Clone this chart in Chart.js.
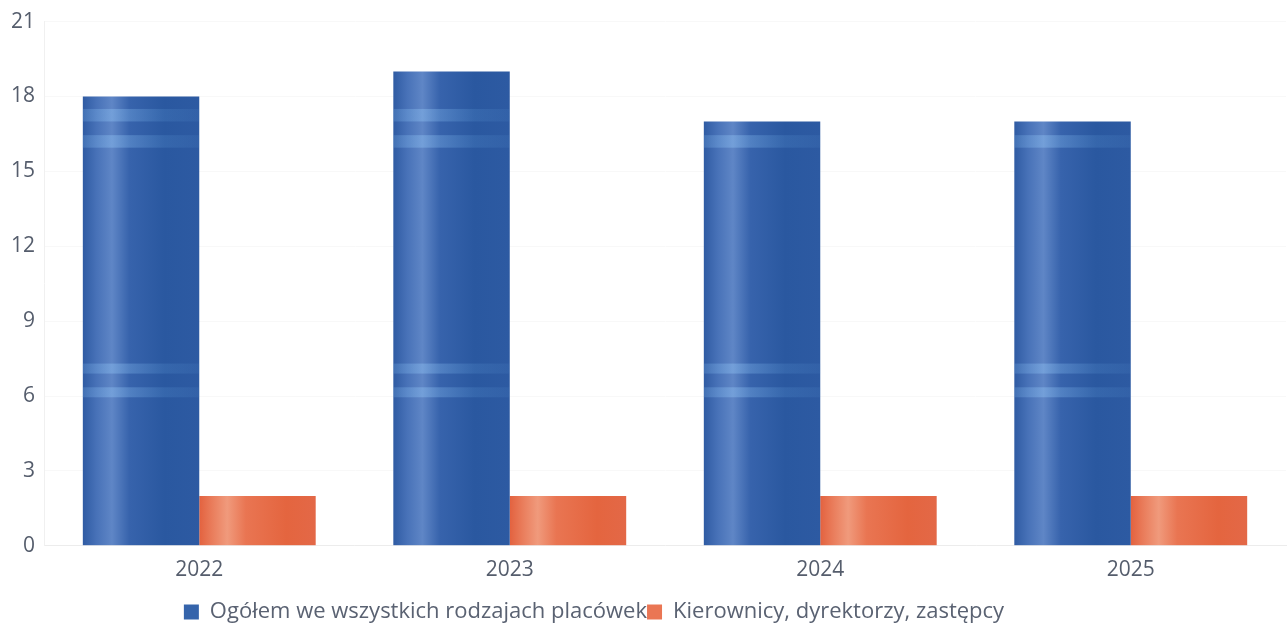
<!DOCTYPE html>
<html>
<head>
<meta charset="utf-8">
<script src="https://cdn.jsdelivr.net/npm/chart.js"></script>
<style>
  html, body { margin: 0; padding: 0; background: #fff; }
  #wrap { width: 1288px; height: 633px; position: relative; }
</style>
</head>
<body>
<div id="wrap"><canvas id="chart"></canvas></div>
<script>
// dane wykresu
const years = ['2022', '2023', '2024', '2025'];
const ogolem = [18, 19, 17, 17];
const kierownicy = [2, 2, 2, 2];
const yTicks = [0, 3, 6, 9, 12, 15, 18, 21];

// gradient "walca" liczony z pozycji słupka
function barGradient(ctx, stops) {
    const chart = ctx.chart;
    const meta = chart.getDatasetMeta(ctx.datasetIndex);
    const el = meta.data[ctx.dataIndex];
    if (!el || el.x == null || isNaN(el.x)) return stops[stops.length - 1][1];
    const left = el.x - el.width / 2;
    const g = chart.ctx.createLinearGradient(left, 0, left + el.width, 0);
    stops.forEach(s => g.addColorStop(s[0], s[1]));
    return g;
}

const blueStops = [[0, '#2f5ba3'], [0.12, '#4872b8'], [0.25, '#5f86c6'], [0.4, '#3763ac'], [0.7, '#2a58a0'], [1, '#2d5aa2']];
const orangeStops = [[0, '#e3623f'], [0.12, '#ea7f5e'], [0.24, '#f09a7c'], [0.4, '#e97552'], [0.75, '#e4653f'], [1, '#e36847']];

// jasne pasy na niebieskich słupkach (odblask)
const stripesPlugin = {
    id: 'stripes',
    afterDatasetsDraw(chart) {
        const meta = chart.getDatasetMeta(0);
        const y = chart.scales.y;
        const c = chart.ctx;
        meta.data.forEach(el => {
            const left = el.x - el.width / 2;
            [[17.0, 17.5], [15.95, 16.45], [6.9, 7.3], [5.95, 6.35]].forEach(b => {
                const top = Math.max(y.getPixelForValue(b[1]), el.y + 3);
                const bot = y.getPixelForValue(b[0]);
                if (bot <= top) return;
                const g = c.createLinearGradient(left, 0, left + el.width, 0);
                g.addColorStop(0, 'rgba(120,175,230,0.25)');
                g.addColorStop(0.25, 'rgba(140,190,240,0.45)');
                g.addColorStop(0.7, 'rgba(100,160,220,0.2)');
                g.addColorStop(1, 'rgba(100,160,220,0.1)');
                c.save();
                c.fillStyle = g;
                c.fillRect(left, top, el.width, bot - top);
                c.restore();
            });
        });
    }
};

// legenda przesunięta w lewo i w dół, jak w oryginale
const legendShift = {
    id: 'legendShift',
    afterLayout(chart) {
        const lg = chart.legend;
        if (lg) {
            lg.left -= 50;
            lg.right -= 50;
            lg.top += 14;
            lg.bottom += 14;
        }
    }
};

const chart = new Chart(document.getElementById('chart'), {
    type: 'bar',
    data: {
        labels: years,
        datasets: [
            {
                label: 'Ogółem we wszystkich rodzajach placówek',
                data: ogolem,
                backgroundColor: ctx => barGradient(ctx, blueStops),
                borderWidth: 0
            },
            {
                label: 'Kierownicy, dyrektorzy, zastępcy',
                data: kierownicy,
                backgroundColor: ctx => barGradient(ctx, orangeStops),
                borderWidth: 0
            }
        ]
    },
    options: {
        responsive: true,
        maintainAspectRatio: false,
        animation: false,
        layout: { padding: { left: 2, right: 2, top: 0, bottom: 14 } },
        datasets: { bar: { categoryPercentage: 0.75, barPercentage: 1 } },
        scales: {
            x: {
                grid: { display: false },
                border: { color: '#ececec' },
                ticks: { color: '#555d6c', font: { family: 'Open Sans', size: 21 }, padding: 4 }
            },
            y: {
                min: 0,
                max: 21,
                afterBuildTicks: axis => { axis.ticks = yTicks.map(v => ({ value: v })); },
                grid: { color: '#f8f8f8', drawTicks: false },
                border: { color: '#f0f0f0' },
                ticks: { color: '#555d6c', font: { family: 'Open Sans', size: 21 }, padding: 9 }
            }
        },
        plugins: {
            legend: {
                position: 'bottom',
                labels: {
                    color: '#5a6272',
                    font: { family: 'Open Sans', size: 22 },
                    boxWidth: 15,
                    boxHeight: 15,
                    padding: 0,
                    generateLabels: chart => chart.data.datasets.map((ds, i) => ({
                        text: ds.label,
                        fontColor: '#5a6272',
                        fillStyle: i === 0 ? '#3564ab' : '#ea7654',
                        strokeStyle: 'transparent',
                        lineWidth: 0,
                        datasetIndex: i
                    }))
                }
            },
            tooltip: { enabled: false }
        }
    },
    plugins: [stripesPlugin, legendShift]
});
chart.update();
</script>
</body>
</html>
